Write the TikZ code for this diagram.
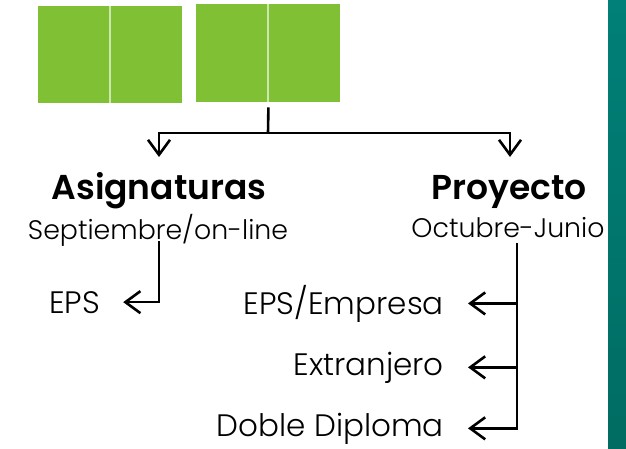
\documentclass[tikz,border=0pt]{standalone}
\usepackage{fontspec}
\setmainfont{Poppins}[UprightFont=* Light, BoldFont=* SemiBold]
\usetikzlibrary{arrows.meta}

\definecolor{tilegreen}{RGB}{128,192,52}
\definecolor{seamgreen}{RGB}{205,232,175}
\definecolor{barteal}{RGB}{0,128,120}
\definecolor{bartealdark}{RGB}{0,108,98}

\tikzset{
  tile/.style={fill=tilegreen, inner sep=0pt, minimum width=72pt, anchor=north west},
  seam/.style={draw=seamgreen, line width=2pt},
  branch/.style={line width=2.6pt, -{Straight Barb[length=15pt,width=22pt]}},
  title/.style={font=\fontsize{34.5}{40}\selectfont\bfseries, anchor=base},
  period/.style={font=\fontsize{26.8}{32}\selectfont, anchor=base},
  place/.style={font=\fontsize{31}{36}\selectfont, inner sep=0pt},
}

\begin{document}
\begin{tikzpicture}[x=1pt, y=-1pt]
  \useasboundingbox (0,0) rectangle (626,448);
  % side bar
  \shade[top color=barteal, bottom color=bartealdark] (608,0) rectangle (626,448);

  % green tiles
  \node[tile, minimum height=97pt] (tileA) at (38,6) {};
  \node[tile, minimum height=97pt] (tileB) at (110,6) {};
  \node[tile, minimum height=98pt] (tileC) at (196,4) {};
  \node[tile, minimum height=98pt] (tileD) at (268,4) {};
  \draw[seam] (tileA.north east) -- (tileA.south east);
  \draw[seam] (tileC.north east) -- (tileC.south east);

  % headings
  \node[title] (asig) at (159,199) {Asignaturas};
  \node[period] (asigsub) at (158,239) {Septiembre/on-line};
  \node[title] (proy) at (509,199) {Proyecto};
  \node[period] (proysub) at (508,237) {Octubre-Junio};

  % destinations
  \node[place, anchor=base west] (eps) at (49,313) {EPS};
  \node[place, anchor=base east] (epsemp) at (444,314) {EPS/Empresa};
  \node[place, anchor=base east] (extr) at (444,375) {Extranjero};
  \node[place, anchor=base east] (doble) at (444,436) {Doble Diploma};

  % top split
  \coordinate (split) at (268,133);
  \coordinate (asigin) at (159,157);
  \coordinate (proyin) at (510,157);
  \draw[line width=2.6pt] ([yshift=-5pt]tileC.south east) -- (split);
  \draw[branch] (split) -| (asigin);
  \draw[branch] (split) -| (proyin);

  % Asignaturas
  \coordinate (asigdrop) at (159,241);
  \draw[branch] (asigdrop) |- ([xshift=23pt]eps.east);

  % Proyecto
  \coordinate (proydrop) at (517,243);
  \draw[branch] (proydrop) |- ([xshift=24pt]doble.east);
  \draw[branch] (proydrop |- epsemp.east) -- ([xshift=24pt]epsemp.east);
  \draw[branch] (proydrop |- extr.east) -- ([xshift=24pt]extr.east);
\end{tikzpicture}
\end{document}
